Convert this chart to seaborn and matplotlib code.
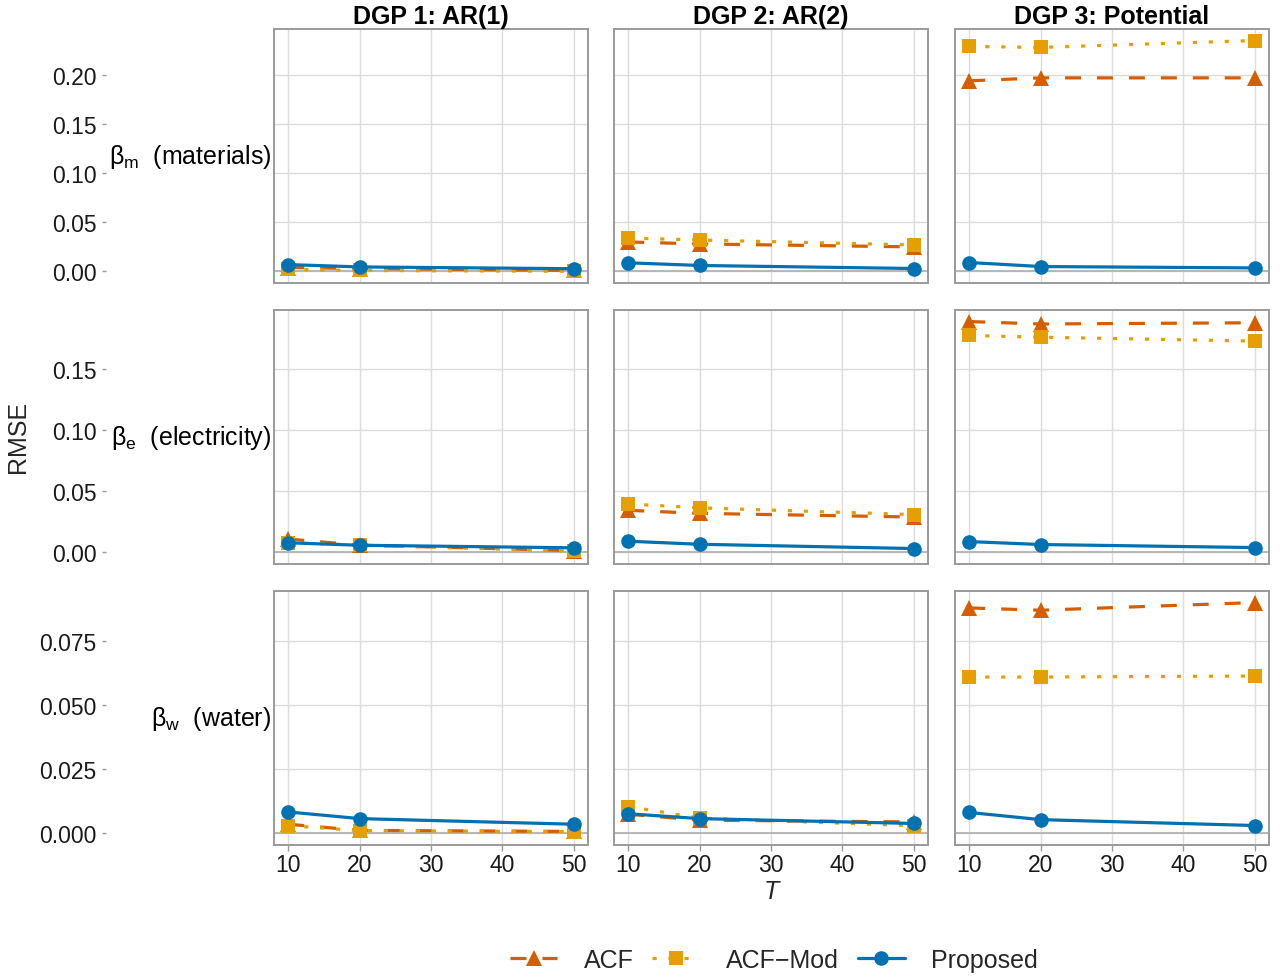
import numpy as np
import pandas as pd
import matplotlib
matplotlib.use("Agg")
import matplotlib.pyplot as plt
from matplotlib.lines import Line2D
from matplotlib.ticker import FormatStrFormatter, FixedLocator
import seaborn as sns

# ---------------- data ----------------
T_values = [10, 20, 50]
methods = ["ACF", "ACF-Mod", "Proposed"]
legend_labels = ["ACF", "ACF\u2212Mod", "Proposed"]
dgps = ["DGP 1: AR(1)", "DGP 2: AR(2)", "DGP 3: Potential"]
params = ["m", "e", "w"]
param_labels = [r"$\mathrm{\beta_m}$  (materials)",
                r"$\mathrm{\beta_e}$  (electricity)",
                r"$\mathrm{\beta_w}$  (water)"]

# each list: [DGP1, DGP2, DGP3], each inner list over T = 10, 20, 50
acf_m = [[0.004, 0.003, 0.001], [0.030, 0.028, 0.025], [0.194, 0.197, 0.197]]
mod_m = [[0.002, 0.001, 0.0002], [0.034, 0.032, 0.027], [0.229, 0.228, 0.235]]
prop_m = [[0.007, 0.0046, 0.0028], [0.0088, 0.0061, 0.0030], [0.0091, 0.0050, 0.0036]]

acf_e = [[0.011, 0.006, 0.0015], [0.0345, 0.032, 0.029], [0.189, 0.187, 0.188]]
mod_e = [[0.008, 0.006, 0.001], [0.0397, 0.0365, 0.031], [0.1776, 0.1762, 0.173]]
prop_e = [[0.0079, 0.0059, 0.0038], [0.0092, 0.0067, 0.0032], [0.0089, 0.0065, 0.0040]]

acf_w = [[0.0036, 0.0012, 0.0008], [0.0075, 0.0052, 0.0045], [0.0881, 0.0872, 0.0902]]
mod_w = [[0.0031, 0.0011, 0.0007], [0.0105, 0.0060, 0.0030], [0.0611, 0.0611, 0.0615]]
prop_w = [[0.0084, 0.0058, 0.0036], [0.0077, 0.0058, 0.0039], [0.0082, 0.0054, 0.0031]]

y_ticks = [[0.00, 0.05, 0.10, 0.15, 0.20],
           [0.00, 0.05, 0.10, 0.15],
           [0.000, 0.025, 0.050, 0.075]]
y_fmt = ["%.2f", "%.2f", "%.3f"]
x_ticks = [10, 20, 30, 40, 50]

series = {"m": {"ACF": acf_m, "ACF-Mod": mod_m, "Proposed": prop_m},
          "e": {"ACF": acf_e, "ACF-Mod": mod_e, "Proposed": prop_e},
          "w": {"ACF": acf_w, "ACF-Mod": mod_w, "Proposed": prop_w}}

rows = []
for p in params:
    for mth in methods:
        for d_i, d in enumerate(dgps):
            for t, v in zip(T_values, series[p][mth][d_i]):
                rows.append({"param": p, "DGP": d, "Method": mth, "T": t, "RMSE": v})
df = pd.DataFrame(rows)

# ---------------- style ----------------
sns.set_theme(style="white")
plt.rcParams["font.family"] = ["Liberation Sans", "DejaVu Sans"]
plt.rcParams["mathtext.fontset"] = "custom"
plt.rcParams["mathtext.rm"] = "Liberation Sans"
plt.rcParams["mathtext.it"] = "Liberation Sans:italic"

palette = {"ACF": "#D55E00", "ACF-Mod": "#E69F00", "Proposed": "#0072B2"}
markers = {"ACF": "^", "ACF-Mod": "s", "Proposed": "o"}
dashes = {"ACF": (5, 5), "ACF-Mod": (1.3, 3.7), "Proposed": ""}
msizes = {"ACF": 12, "ACF-Mod": 10.5, "Proposed": 10.5}

W, H = 1283, 979
fig = plt.figure(figsize=(W / 100, H / 100), dpi=100)

lefts = [274, 614, 955]
pw = 314
tops = [30, 311, 592]
ph = 254

grid_c = "#dcdcdc"
spine_c = "#9a9a9a"
text_c = "#1a1a1a"

for r, p in enumerate(params):
    sub_p = df[df["param"] == p]
    ymin, ymax = sub_p["RMSE"].min(), sub_p["RMSE"].max()
    ymin = min(ymin, 0.0)
    pad = 0.05 * (ymax - ymin)
    ylim = (ymin - pad, ymax + pad)
    ax0 = None
    for c, d in enumerate(dgps):
        rect = [lefts[c] / W, 1 - (tops[r] + ph) / H, pw / W, ph / H]
        ax = fig.add_axes(rect)
        sub = sub_p[sub_p["DGP"] == d]
        ax.axhline(0, color="#b3b3b3", lw=1.3, zorder=1.5)
        sns.lineplot(data=sub, x="T", y="RMSE", hue="Method", style="Method",
                     hue_order=methods, style_order=methods, palette=palette,
                     markers=markers, dashes=dashes, errorbar=None,
                     lw=2.3, markeredgewidth=0, legend=False, ax=ax, zorder=3)
        for line, mth in zip(ax.get_lines()[1:], methods):
            line.set_markersize(msizes[mth])
        ax.set_xlim(8, 52)
        ax.set_ylim(*ylim)
        ax.xaxis.set_major_locator(FixedLocator(x_ticks))
        ax.yaxis.set_major_locator(FixedLocator(y_ticks[r]))
        ax.grid(True, color=grid_c, lw=1.0)
        ax.set_axisbelow(True)
        for s in ax.spines.values():
            s.set_color(spine_c)
            s.set_linewidth(1.4)
        ax.set_xlabel("")
        ax.set_ylabel("")
        ax.tick_params(axis="y", left=False, labelleft=False)
        if r == 2:
            ax.tick_params(axis="x", bottom=True, length=4, width=1.0, color=spine_c,
                           labelsize=16.5, labelcolor=text_c, pad=2)
        else:
            ax.tick_params(axis="x", bottom=False, labelbottom=False)
        if r == 0:
            fig.text((lefts[c] + pw / 2) / W, 1 - 17 / H, d, ha="center", va="center",
                     fontsize=18, fontweight="bold", color="black")
        if c == 0:
            ax0 = ax
    # outer y axis (left of row strip)
    ay = fig.add_axes([106 / W, 1 - (tops[r] + ph) / H, 0.0001, ph / H], sharey=ax0)
    for s in ay.spines.values():
        s.set_visible(False)
    ay.patch.set_alpha(0)
    ay.set_xticks([])
    ay.yaxis.set_major_locator(FixedLocator(y_ticks[r]))
    ay.yaxis.set_major_formatter(FormatStrFormatter(y_fmt[r]))
    ay.tick_params(axis="y", left=True, length=3, width=1.0, color=spine_c,
                   labelsize=16.5, labelcolor=text_c, pad=4)
    ay.set_ylim(*ylim)
    # row label
    fig.text(271 / W, 1 - (tops[r] + ph / 2) / H, param_labels[r], ha="right", va="center",
             fontsize=18, color="black")

fig.text(18 / W, 1 - 437 / H, "RMSE", rotation=90, ha="center", va="center", fontsize=18)
fig.text(771 / W, 1 - 892 / H, "T", style="italic", ha="center", va="center", fontsize=18)

handles = []
for m in methods:
    h = Line2D([0], [0], color=palette[m], marker=markers[m], markersize=msizes[m],
               markeredgewidth=0, lw=2.3, linestyle="-")
    if dashes[m]:
        h.set_dashes(dashes[m])
    handles.append(h)
fig.legend(handles, legend_labels, loc="center", bbox_to_anchor=(774 / W, 1 - 961 / H),
           ncol=3, frameon=False, fontsize=18, handlelength=1.9, handletextpad=1.05,
           columnspacing=0.75)

fig.savefig("out.png", dpi=100)
